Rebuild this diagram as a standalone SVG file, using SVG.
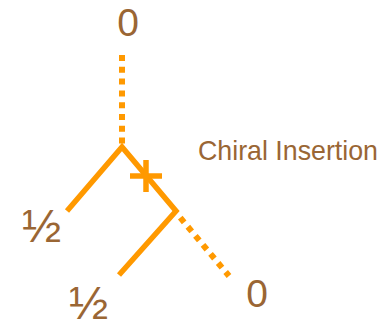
<svg xmlns="http://www.w3.org/2000/svg" width="387" height="326" viewBox="0 0 387 326">
<style>
.lbl{font-family:"Liberation Sans",Arial,sans-serif;fill:#9a6634}
.solid{fill:none;stroke:#ff9900;stroke-width:5.5;stroke-linejoin:miter;stroke-miterlimit:10}
.dot{fill:none;stroke:#ff9900;stroke-width:6;stroke-dasharray:6 5.8}
</style>
<rect width="387" height="326" fill="#ffffff"/>
<g id="connectors">
<line class="dot" x1="122" y1="55" x2="122" y2="146"/>
<path class="solid" d="M67,211 L122,147 L176,211 L119,275"/>
<line class="dot" x1="180.3" y1="217.7" x2="229" y2="276"/>
<g id="cross">
<line class="solid" x1="130" y1="176" x2="162" y2="176"/>
<line class="solid" x1="146" y1="160" x2="146" y2="192"/>
</g>
</g>
<g id="top-zero"><text class="lbl" x="128" y="36" font-size="39" text-anchor="middle">0</text></g>
<g id="bottom-zero"><text class="lbl" x="257" y="307" font-size="39" text-anchor="middle">0</text></g>
<g id="half-left"><text class="lbl" x="22" y="242" font-size="47">½</text></g>
<g id="half-bottom"><text class="lbl" x="69" y="319" font-size="47">½</text></g>
<g id="chiral-label"><text class="lbl" x="198" y="159.5" font-size="28" textLength="180" lengthAdjust="spacingAndGlyphs">Chiral Insertion</text></g>
</svg>
